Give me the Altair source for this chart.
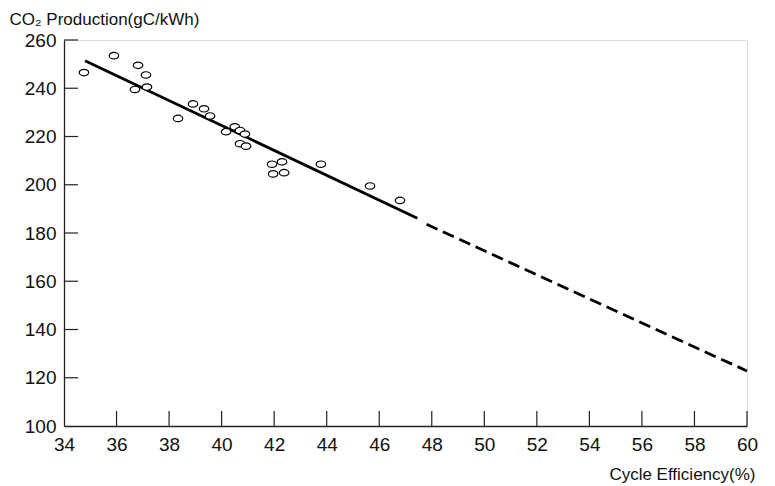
import altair as alt
import pandas as pd

# Scatter data (cycle efficiency %, CO2 production gC/kWh)
efficiency = [34.76, 35.9, 36.82, 36.7, 37.12, 37.16, 38.34, 38.91, 39.33, 39.56,
              40.17, 40.5, 40.7, 40.89, 40.7, 40.93, 41.92, 42.3, 41.96, 42.38,
              43.78, 45.65, 46.79]
co2 = [246.5, 253.5, 249.5, 239.5, 245.5, 240.5, 227.5, 233.5, 231.5, 228.5,
       222.0, 224.0, 222.5, 221.0, 217.0, 216.0, 208.5, 209.5, 204.5, 205.0,
       208.5, 199.5, 193.5]

# Fitted trend (solid) and extrapolation (dashed)
fit_x = [34.8, 47.45]
fit_y = [251.4, 186.1]
proj_x = [47.8, 60.0]
proj_y = [183.6, 122.8]

x_ticks = [36, 38, 40, 42, 44, 46, 48, 50, 52, 54, 56, 58, 60]
y_ticks = [120, 140, 160, 180, 200, 220, 240, 260]

W, H = 683, 386
FONT = "Liberation Sans"

pts = pd.DataFrame({"eff": efficiency, "co2": co2})
fit = pd.DataFrame({"eff": fit_x, "co2": fit_y})
proj = pd.DataFrame({"eff": proj_x, "co2": proj_y})
xt = pd.DataFrame({"t": x_ticks})
yt = pd.DataFrame({"t": y_ticks})

xscale = alt.Scale(domain=[34, 60], nice=False, zero=False)
yscale = alt.Scale(domain=[100, 260], nice=False, zero=False)

xaxis = alt.Axis(values=list(range(34, 61, 2)), ticks=False, grid=False,
                 domainColor="#222", domainWidth=1.3,
                 labelFont=FONT, labelFontSize=19, labelColor="#111",
                 labelPadding=9, labelFlush=False,
                 title="Cycle Efficiency(%)", titleFont=FONT, titleFontSize=17,
                 titleFontWeight="normal", titleColor="#111",
                 titleX=691, titleY=53, titleAlign="right",
                 titleBaseline="alphabetic", titleAnchor="end")
yaxis = alt.Axis(values=list(range(100, 261, 20)), ticks=False, grid=False,
                 domainColor="#222", domainWidth=1.3,
                 labelFont=FONT, labelFontSize=19, labelColor="#111",
                 labelPadding=8, labelFlush=False,
                 title="CO₂ Production(gC/kWh)", titleFont=FONT, titleFontSize=17,
                 titleFontWeight="normal", titleColor="#111", titleAngle=0,
                 titleX=-55, titleY=-16, titleAlign="left",
                 titleBaseline="alphabetic")

base_x = alt.X("eff:Q", scale=xscale, axis=xaxis)
base_y = alt.Y("co2:Q", scale=yscale, axis=yaxis)

line = alt.Chart(fit).mark_line(color="black", strokeWidth=2.8).encode(
    x=base_x, y=base_y)
dash = alt.Chart(proj).mark_line(color="black", strokeWidth=2.8,
                                 strokeDash=[12, 6]).encode(
    x=alt.X("eff:Q", scale=xscale), y=alt.Y("co2:Q", scale=yscale))

ellipse = "M-1,0A1,0.68,0,1,0,1,0A1,0.68,0,1,0,-1,0Z"
points = alt.Chart(pts).mark_point(shape=ellipse, size=90, filled=True,
                                   fill="white", stroke="black",
                                   strokeWidth=1.2, opacity=1).encode(
    x=alt.X("eff:Q", scale=xscale), y=alt.Y("co2:Q", scale=yscale))

xtick_marks = alt.Chart(xt).mark_rule(color="#222", strokeWidth=1.2).encode(
    x=alt.X("t:Q", scale=xscale), y=alt.value(H), y2=alt.value(H - 15))
ytick_marks = alt.Chart(yt).mark_rule(color="#222", strokeWidth=1.2).encode(
    y=alt.Y("t:Q", scale=yscale), x=alt.value(0), x2=alt.value(14))

chart = alt.layer(line, dash, points, xtick_marks, ytick_marks).properties(
    width=W, height=H,
    padding={"left": 56, "top": 32, "right": 20, "bottom": 58},
    autosize=alt.AutoSizeParams(type="none"),
).configure_view(stroke=None).configure(background="white")

chart.save("out.html", embed_options={"renderer": "svg", "actions": False})
